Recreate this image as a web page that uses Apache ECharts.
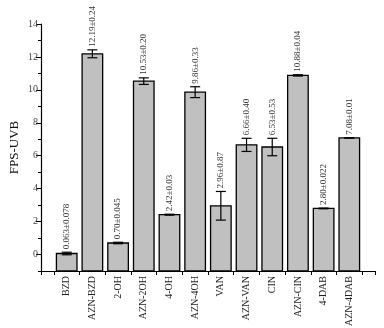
<!DOCTYPE html>
<html>
<head>
<meta charset="utf-8">
<script src="https://cdn.jsdelivr.net/npm/echarts@6/dist/echarts.min.js"></script>
<style>
  html, body { margin: 0; padding: 0; background: #fff; }
  #chart { width: 384px; height: 328px; }
</style>
</head>
<body>
<div id="chart"></div>
<script>
  // samples along the x axis
  var categories = ['BZD', 'AZN-BZD', '2-OH', 'AZN-2OH', '4-OH', 'AZN-4OH', 'VAN', 'AZN-VAN', 'CIN', 'AZN-CIN', '4-DAB', 'AZN-4DAB'];
  var means = [0.063, 12.19, 0.70, 10.53, 2.42, 9.86, 2.96, 6.66, 6.53, 10.88, 2.80, 7.08];
  var errors = [0.078, 0.24, 0.045, 0.20, 0.03, 0.33, 0.87, 0.40, 0.53, 0.04, 0.022, 0.01];
  var valueLabels = ['0.063±0.078', '12.19±0.24', '0.70±0.045', '10.53±0.20', '2.42±0.03', '9.86±0.33',
    '2.96±0.87', '6.66±0.40', '6.53±0.53', '10.88±0.04', '2.80±0.022', '7.08±0.01'];
  var yTicks = [0, 2, 4, 6, 8, 10, 12, 14];

  var serif = 'Liberation Serif';
  var chart = echarts.init(document.getElementById('chart'));

  var data = [];
  for (var i = 0; i < categories.length; i++) {
    data.push([i + 1, means[i], errors[i], i]);
  }
  var xTicks = [0];
  var xLabelPos = [];
  for (var k = 0; k < categories.length; k++) {
    xTicks.push(k + 0.5);
    xLabelPos.push(k + 1);
  }
  xTicks.push(categories.length + 0.5, categories.length + 1);

  function renderItem (params, api) {
    var x = api.value(0);
    var v = api.value(1);
    var e = api.value(2);
    var idx = api.value(3);
    var base = api.coord([x, -1]);
    var top = api.coord([x, v]);
    var hi = api.coord([x, v + e]);
    var lo = api.coord([x, v - e]);
    var w = api.size([0.8, 0])[0];
    var cap = 5;
    var line = {stroke: '#000', lineWidth: 1.2};
    return {
      type: 'group',
      children: [
        {
          type: 'rect',
          shape: {x: base[0] - w / 2, y: top[1], width: w, height: base[1] - top[1]},
          style: {fill: '#c0c0c0', stroke: '#000', lineWidth: 1.3}
        },
        {type: 'line', shape: {x1: hi[0], y1: hi[1], x2: lo[0], y2: lo[1]}, style: line},
        {type: 'line', shape: {x1: hi[0] - cap, y1: hi[1], x2: hi[0] + cap, y2: hi[1]}, style: line},
        {type: 'line', shape: {x1: lo[0] - cap, y1: lo[1], x2: lo[0] + cap, y2: lo[1]}, style: line},
        {
          type: 'text',
          x: hi[0],
          y: hi[1] - 3,
          rotation: Math.PI / 2,
          style: {
            text: valueLabels[idx],
            fill: '#333',
            font: '9px "' + serif + '"',
            align: 'left',
            verticalAlign: 'middle'
          }
        }
      ]
    };
  }

  chart.setOption({
    animation: false,
    grid: {left: 41, right: 9, top: 24, bottom: 57, containLabel: false, outerBoundsMode: 'none'},
    xAxis: {
      type: 'value',
      min: 0,
      max: 13,
      interval: 1,
      splitLine: {show: false},
      axisLine: {show: true, onZero: false, lineStyle: {color: '#000', width: 1.2}},
      axisTick: {show: true, length: 4, customValues: xTicks, lineStyle: {color: '#000'}},
      axisLabel: {
        customValues: xLabelPos,
        rotate: 90,
        margin: 5,
        color: '#222',
        fontFamily: serif,
        fontSize: 10,
        formatter: function (val) {
          return categories[Math.round(val) - 1] || '';
        }
      }
    },
    yAxis: [
      {
        type: 'value',
        min: -1,
        max: 14,
        interval: 1,
        splitLine: {show: false},
        axisLine: {show: true, onZero: false, lineStyle: {color: '#000', width: 1.2}},
        axisTick: {show: true, length: 3, lineStyle: {color: '#000'}},
        axisLabel: {show: false}
      },
      {
        type: 'value',
        position: 'left',
        min: -1,
        max: 14,
        interval: 1,
        splitLine: {show: false},
        axisLine: {show: false, onZero: false},
        axisTick: {show: true, length: 5, customValues: yTicks, lineStyle: {color: '#000'}},
        axisLabel: {customValues: yTicks, margin: 3, color: '#444', fontFamily: serif, fontSize: 10},
        name: 'FPS-UVB',
        nameLocation: 'middle',
        nameGap: 20,
        nameMoveOverlap: false,
        nameTextStyle: {color: '#111', fontFamily: serif, fontSize: 13}
      }
    ],
    series: [{
      type: 'custom',
      renderItem: renderItem,
      encode: {x: 0, y: 1},
      data: data
    }]
  });
</script>
</body>
</html>
